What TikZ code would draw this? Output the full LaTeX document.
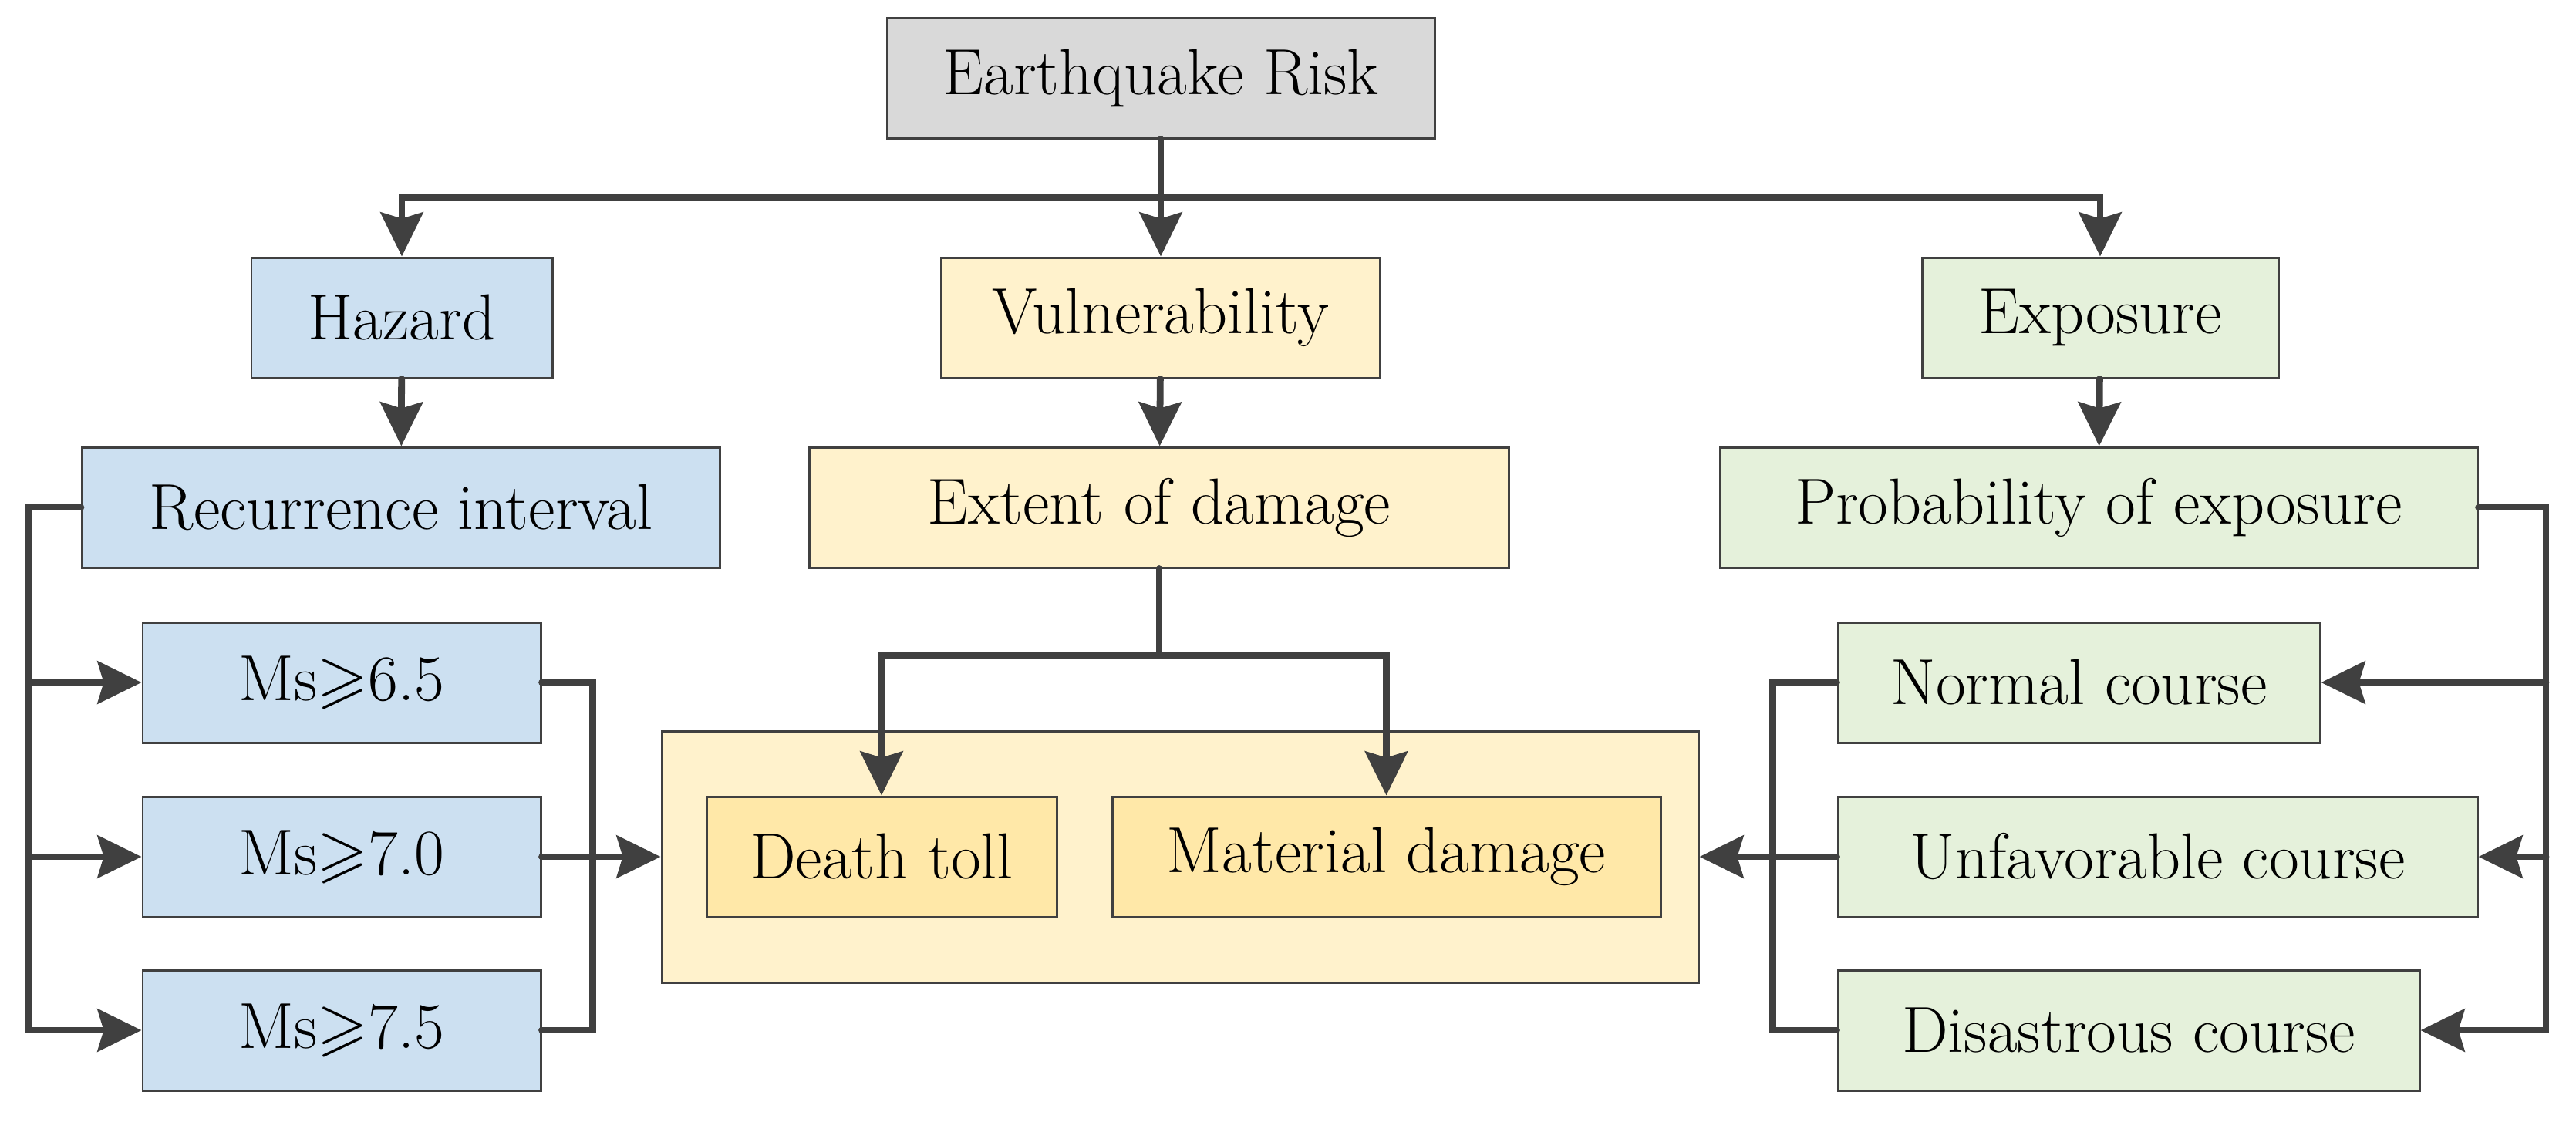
\documentclass[tikz,border=0pt]{standalone}
\usepackage{amsmath,amssymb}
\usepackage{xcolor}
\usepackage{tikz}
\usetikzlibrary{arrows.meta,positioning,calc}

\definecolor{riskgray}{HTML}{D9D9D9}
\definecolor{hazblue}{HTML}{CCE0F1}
\definecolor{vulnyellow}{HTML}{FFF2CC}
\definecolor{dmgyellow}{HTML}{FFE8A8}
\definecolor{expgreen}{HTML}{E5F1DB}
\definecolor{linegray}{HTML}{404040}

\begin{document}
\begin{tikzpicture}[
  block/.style={draw=linegray, line width=0.85pt, minimum height=1.56cm, inner sep=0pt, font=\fontsize{24}{29}\selectfont},
  hz/.style={block, fill=hazblue},
  vu/.style={block, fill=vulnyellow},
  dm/.style={block, fill=dmgyellow},
  ex/.style={block, fill=expgreen},
  wire/.style={draw=linegray, line width=2.5pt, line cap=round},
  feed/.style={wire, -{Stealth[length=0.57cm, width=0.55cm, inset=0.08cm]}}
]
\useasboundingbox (0,0) rectangle (33.4,-14.54);

% top level
\node [block, fill=riskgray, minimum width=7.10cm] (risk) at (15.05,-1.01) {Earthquake Risk};

\node [hz, minimum width=3.90cm] (hazard) at (5.21,-4.12) {Hazard};
\node [vu, minimum width=5.69cm] (vuln) at (15.05,-4.12) {Vulnerability};
\node [ex, minimum width=4.62cm] (expo) at (27.23,-4.12) {Exposure};

\node [hz, minimum width=8.27cm] (recur) at (5.20,-6.58) {Recurrence interval};
\node [vu, minimum width=9.07cm] (extent) at (15.03,-6.58) {Extent of damage};
\node [ex, minimum width=9.82cm] (prob) at (27.21,-6.58) {Probability of exposure};

% magnitudes
\node [hz, minimum width=5.16cm] (ms65) at (4.43,-8.85) {Ms$\geqslant$6.5};
\node [hz, minimum width=5.16cm] (ms70) at (4.43,-11.11) {Ms$\geqslant$7.0};
\node [hz, minimum width=5.16cm] (ms75) at (4.43,-13.36) {Ms$\geqslant$7.5};

% damage
\node [vu, minimum width=13.44cm, minimum height=3.26cm] (impact) at (15.30,-11.11) {};
\node [dm, minimum width=4.54cm] (death) at (11.43,-11.11) {Death toll};
\node [dm, minimum width=7.11cm] (material) at (17.975,-11.11) {Material damage};

% courses
\node [ex, minimum width=6.25cm] (normal) at (26.955,-8.85) {Normal course};
\node [ex, minimum width=8.29cm] (unfav) at (27.975,-11.11) {Unfavorable course};
\node [ex, minimum width=7.54cm] (disast) at (27.60,-13.36) {Disastrous course};

% connectors
\coordinate (topbus) at ($(risk.south)!0.5!(vuln.north)$);
\draw [feed] (risk) -- (vuln);
\draw [feed] (topbus) -| (hazard);
\draw [feed] (topbus) -| (expo);

\draw [feed] (hazard) -- (recur);
\draw [feed] (vuln) -- (extent);
\draw [feed] (expo) -- (prob);

\coordinate (lbus) at ($(recur.west)+(-0.68,0)$);
\draw [feed] (recur.west) -- (lbus) |- (ms75);
\draw [feed] (lbus |- ms65) -- (ms65);
\draw [feed] (lbus |- ms70) -- (ms70);
\draw [wire] (ms65.east) -- ++(0.66,0) |- (ms75.east);
\draw [feed] (ms70) -- (impact);

\coordinate (split) at ($(extent.south)+(0,-1.13)$);
\draw [feed] (extent) -- (split) -| (death);
\draw [feed] (split) -| (material);

\coordinate (rbus) at (33.01,-6.58);
\draw [feed] (prob.east) -- (rbus) |- (disast);
\draw [feed] (rbus |- normal) -- (normal);
\draw [feed] (rbus |- unfav) -- (unfav);
\draw [wire] (normal.west) -- ++(-0.83,0) |- (disast.west);
\draw [feed] (unfav) -- (impact);
\end{tikzpicture}
\end{document}
